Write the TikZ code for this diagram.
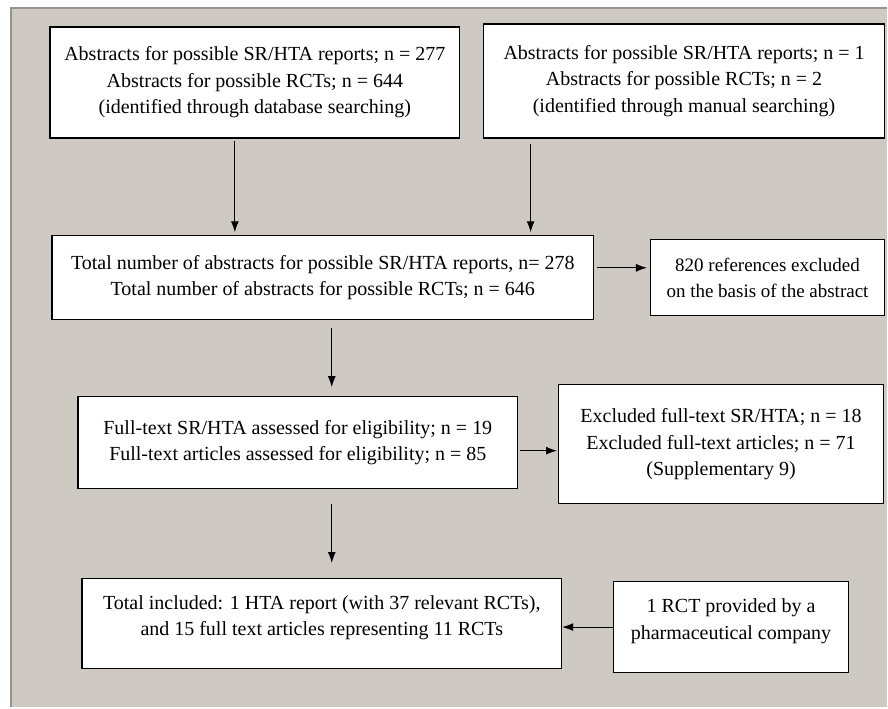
\documentclass[tikz,border=0pt]{standalone}
\usepackage{fontspec}
\setmainfont{Liberation Serif}
\usepackage{xcolor}
\usetikzlibrary{arrows.meta}
\definecolor{panelgray}{RGB}{206,201,195}
\definecolor{edgegray}{RGB}{150,148,146}

\begin{document}
\begin{tikzpicture}[x=1pt, y=-1pt, >={Latex[length=11pt,width=8pt]}]
		\tikzstyle{box}=[
		draw,
		fill=white,
		rectangle,
		line width=1.2pt,
		align=center,
		inner sep=0pt,
		font=\fontsize{20}{26.5}\selectfont]
		\tikzstyle{link}=[->, line width=1pt]
		%
		\fill[white] (0,0) rectangle (888,709);
		\fill[panelgray] (11,8) rectangle (888,707);
		\draw[edgegray, line width=1.2pt] (11,707) -- (11,8) -- (888,8);
		%
		\node[box, minimum width=410pt, minimum height=111pt] (A) at (255,82.5) {Abstracts for possible SR/HTA reports; n = 277\\Abstracts for possible RCTs; n = 644\\(identified through database searching)};
		\node[box, minimum width=401pt, minimum height=114pt, right of=A, node distance=429.5pt, yshift=1.5pt] (B) {Abstracts for possible SR/HTA reports; n = 1\\Abstracts for possible RCTs; n = 2\\(identified through manual searching)};
		\node[box, minimum width=542pt, minimum height=84pt, below of=A, node distance=195.5pt, xshift=68pt] (C) {Total number of abstracts for possible SR/HTA reports, n= 278\\Total number of abstracts for possible RCTs; n = 646};
		\node[box, minimum width=234pt, minimum height=76pt, right of=C, node distance=445pt, font=\fontsize{19}{26}\selectfont] (D) {820 references excluded\\on the basis of the abstract};
		\node[box, minimum width=440pt, minimum height=92pt, below of=C, node distance=165pt, xshift=-25pt] (E) {Full-text SR/HTA assessed for eligibility; n = 19\\Full-text articles assessed for eligibility; n = 85};
		\node[box, minimum width=325pt, minimum height=119pt, right of=E, node distance=423.5pt, yshift=-1.5pt] (F) {Excluded full-text SR/HTA; n = 18\\Excluded full-text articles; n = 71\\(Supplementary 9)};
		\node[box, minimum width=480pt, minimum height=90pt, below of=E, node distance=181pt, xshift=24pt] (G) {Total included: 1 HTA report (with 37 relevant RCTs),\\and 15 full text articles representing 11 RCTs\\[-10pt]};
		\node[box, minimum width=235pt, minimum height=91pt, right of=G, node distance=409.5pt, yshift=-3.5pt] (H) {1 RCT provided by a\\pharmaceutical company\\[-10pt]};
		%
		\draw[link, shorten <=2pt, shorten >=3pt] ([xshift=-20pt]A.south) -- ([xshift=-20pt]A.south |- C.north);
		\draw[link, shorten <=5pt, shorten >=3pt] ([xshift=-153.5pt]B.south) -- ([xshift=-153.5pt]B.south |- C.north);
		\draw[link, shorten <=3pt, shorten >=3pt] ([yshift=10pt]C.east) -- ([yshift=10pt]C.east -| D.west);
		\draw[link, shorten <=8pt, shorten >=9pt] ([xshift=9pt]C.south) -- ([xshift=9pt]C.south |- E.north);
		\draw[link, shorten <=2pt, shorten >=1pt] ([yshift=-8pt]E.east) -- ([yshift=-8pt]E.east -| F.west);
		\draw[link, shorten <=15pt, shorten >=15pt] ([xshift=34pt]E.south) -- ([xshift=34pt]E.south |- G.north);
		\draw[link] (H.west) -- (H.west -| G.east);
\end{tikzpicture}
\end{document}
